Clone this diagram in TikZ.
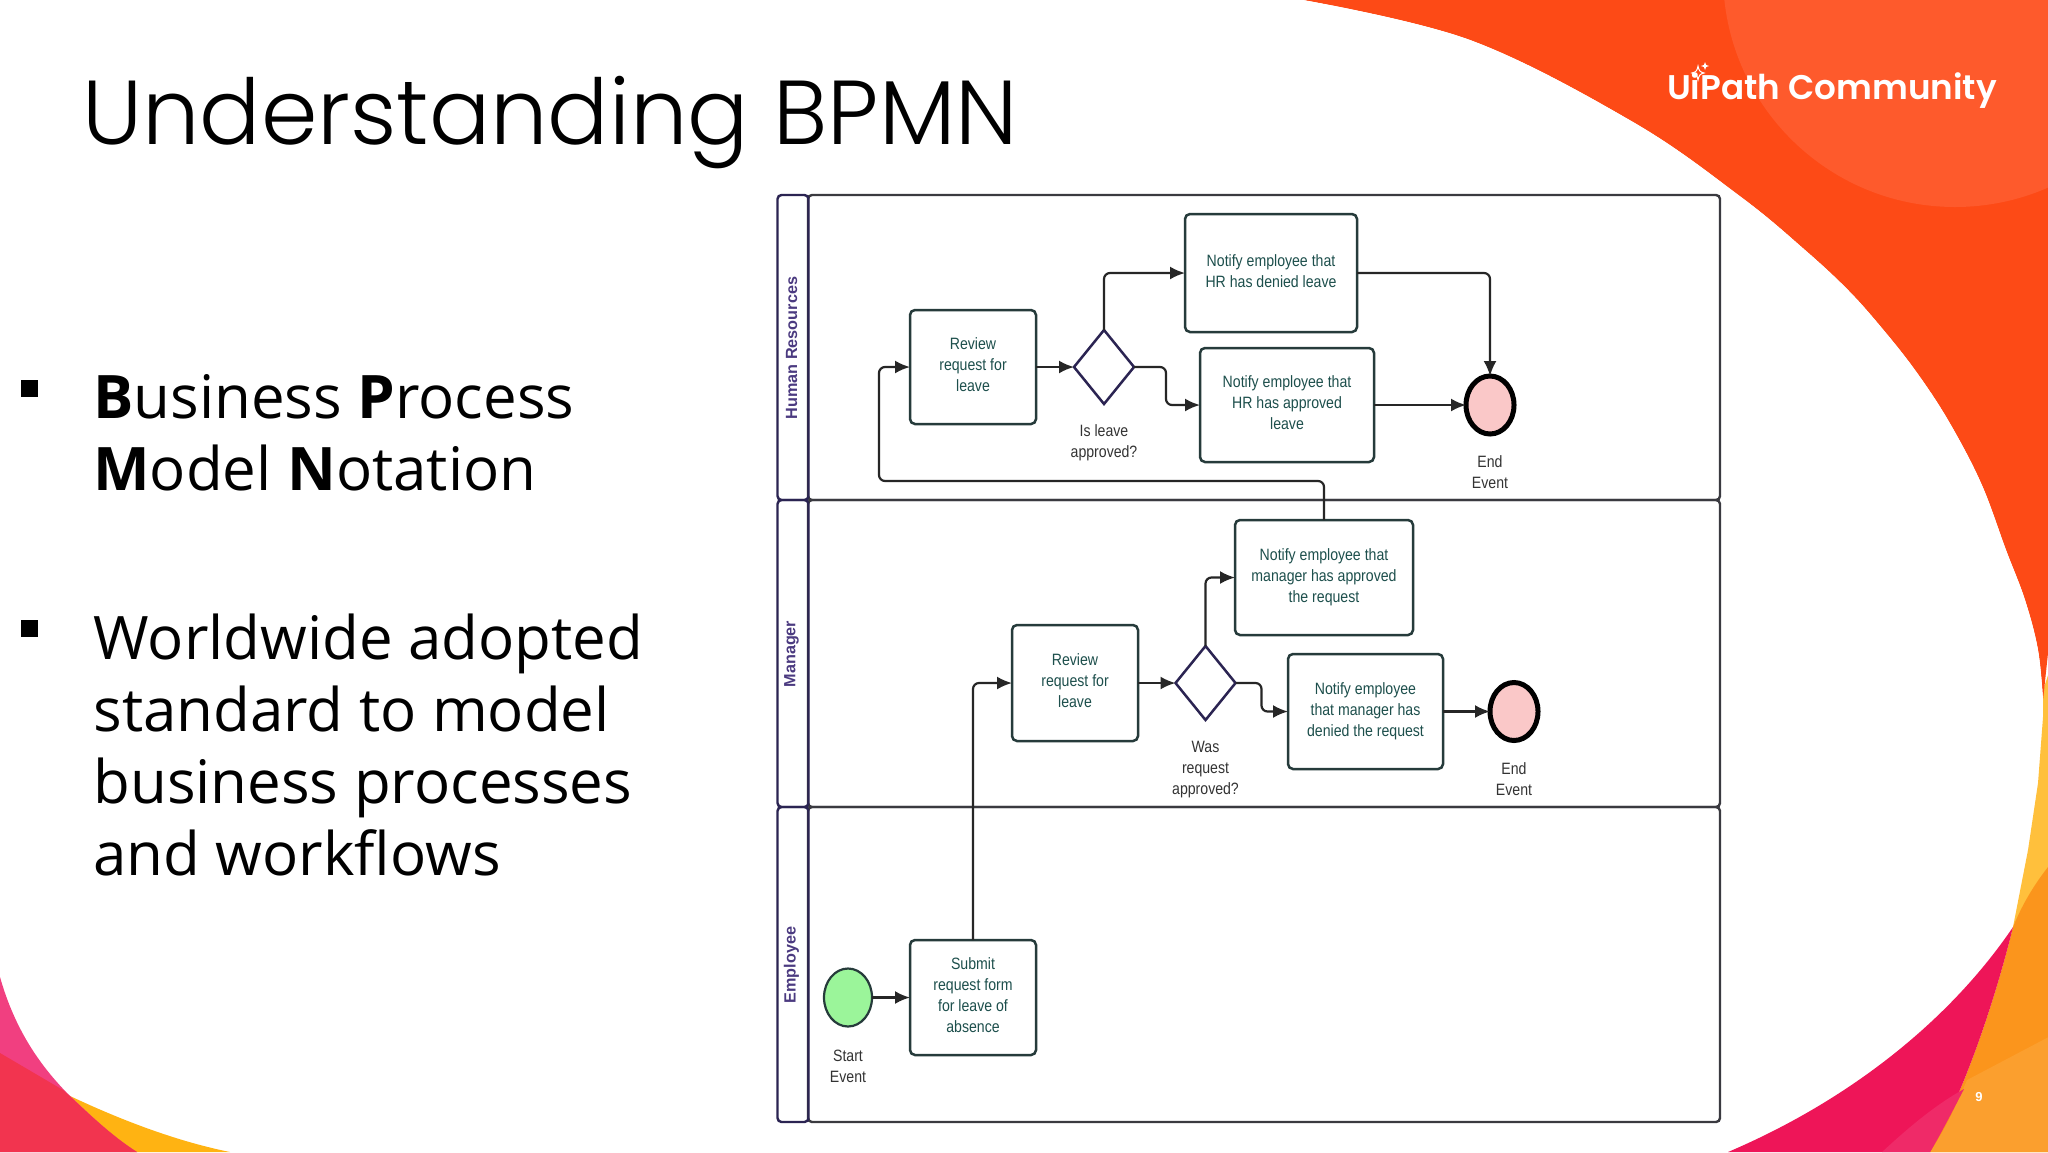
\documentclass[tikz,border=0pt]{standalone}
\usepackage{fontspec}
\usetikzlibrary{arrows.meta,shapes.geometric}
\setmainfont{Liberation Sans}
\newfontfamily\bodyfont{Open Sans}
\newfontfamily\titlefont{Poppins Light}
\newfontfamily\logofont{Poppins SemiBold}
\newfontfamily\flowfont[FakeStretch=0.86]{Liberation Sans}
\newcommand{\upnudge}{\rule[-2pt]{0pt}{0pt}}
\definecolor{redorange}{HTML}{FD4A16}
\definecolor{lightorange}{HTML}{FE5A2C}
\definecolor{sunyellow}{HTML}{FFC03C}
\definecolor{amber}{HTML}{FFB312}
\definecolor{deeporange}{HTML}{FB951C}
\definecolor{softorange}{HTML}{FB9F2E}
\definecolor{crimson}{HTML}{EE1558}
\definecolor{softcrimson}{HTML}{EF2A68}
\definecolor{hotpink}{HTML}{F13F80}
\definecolor{coral}{HTML}{F2344F}
\definecolor{boxline}{HTML}{263B3B}
\definecolor{laneline}{HTML}{3A3A40}
\definecolor{headline}{HTML}{2B2452}
\definecolor{boxtext}{HTML}{1D4F4C}
\definecolor{headtext}{HTML}{4B3A80}
\definecolor{labeltext}{HTML}{333333}
\definecolor{startfill}{HTML}{9BF59A}
\definecolor{endfill}{HTML}{FAC8C8}
\tikzset{
  task/.style={draw=boxline,line width=1.25pt,rounded corners=2.5pt,fill=white,inner sep=0pt,outer sep=0pt,
    align=center,font=\flowfont\fontsize{8.2}{10.5}\selectfont,text=boxtext},
  gate/.style={draw=headline,line width=1.25pt,diamond,fill=white,inner sep=0pt,outer sep=0pt,
    minimum width=30pt,minimum height=37pt},
  evlabel/.style={align=center,font=\flowfont\fontsize{8.2}{10.5}\selectfont,text=labeltext,inner sep=0pt},
  startev/.style={draw=boxline,line width=1.1pt,ellipse,fill=startfill,inner sep=0pt,outer sep=0pt,
    minimum width=24pt,minimum height=29pt},
  endev/.style={draw=black,line width=2.5pt,ellipse,fill=endfill,inner sep=0pt,outer sep=0pt,
    minimum width=24pt,minimum height=29pt},
  lanebox/.style={draw=laneline,line width=1.2pt,rounded corners=2pt,inner sep=0pt,outer sep=0pt},
  headbox/.style={draw=headline,line width=1.2pt,rounded corners=2pt,inner sep=0pt,outer sep=0pt},
  headlabel/.style={rotate=90,font=\fontsize{8.1}{9}\selectfont\bfseries,text=headtext,inner sep=0pt},
  conn/.style={draw=black!85,line width=1.1pt,rounded corners=3pt,-{Latex[length=7.5pt,width=6.5pt]}},
  bodytext/.style={align=left,anchor=north west,inner sep=0pt,font=\bodyfont\fontsize{30}{36}\selectfont,text=black},
  bulletsq/.style={fill=black,draw=none,minimum size=8.5pt,inner sep=0pt,outer sep=0pt}
}
\begin{document}
\begin{tikzpicture}[x=0.5pt,y=-0.5pt]
\useasboundingbox (0,0) rectangle (2048,1152);
\begin{scope}
\clip (0,0) rectangle (2048,1152);
\fill[white] (0,0) rectangle (2048,1152);
% right yellow and orange
\fill[sunyellow] (2060,640) -- (2043,690) -- (2043,717) -- (2038,783) -- (2028,850) -- (2013,927) -- (2060,927) -- cycle;
\fill[deeporange] (2060,855) -- (2048,867) .. controls (2030,890) and (2020,910) .. (2013,927)
   .. controls (1995,1000) and (1965,1090) .. (1930,1152) -- (2060,1152) -- cycle;
\fill[softorange] (2060,1031) -- (1967,1080)
   .. controls (1955,1108) and (1945,1130) .. (1930,1152) -- (2060,1152) -- cycle;
% crimson
\fill[crimson] (2013,927) .. controls (1950,1020) and (1850,1100) .. (1728,1152) -- (1930,1152)
   .. controls (1965,1090) and (1995,1000) .. (2013,927) -- cycle;
\fill[softcrimson] (1964,1089) .. controls (1935,1105) and (1908,1128) .. (1882,1152) -- (1930,1152)
   .. controls (1942,1132) and (1953,1110) .. (1964,1089) -- cycle;
% top right red orange
\fill[redorange] plot[smooth,tension=0.6] coordinates {(1303,0) (1470,40) (1633,122) (1741,197) (1805,250) (1848,290) (1881,327) (1915,370) (1948,420) (1981,483) (2006,550) (2025,600) (2038,650) (2043,700)}
  -- (2048,653) -- (2060,640) -- (2060,-10) -- (1303,-10) -- cycle;
\fill[lightorange] (1955,-25) circle[radius=232];
\fill[white] plot[smooth,tension=0.6] coordinates {(1303,0) (1470,40) (1633,122) (1741,197) (1805,250) (1848,290) (1881,327) (1915,370) (1948,420) (1981,483) (2006,550) (2025,600) (2038,650) (2043,700)}
  -- (1700,700) -- (1303,300) -- cycle;
% bottom left
\fill[amber] (68,1095) .. controls (110,1115) and (170,1140) .. (230,1152) -- (130,1152) -- cycle;
\fill[hotpink] (0,977) .. controls (15,1030) and (40,1065) .. (67,1093) .. controls (85,1110) and (110,1135) .. (137,1152) -- (0,1152) -- cycle;
\fill[coral] (0,1053) -- (63,1090) .. controls (85,1110) and (110,1135) .. (137,1152) -- (0,1152) -- cycle;
\end{scope}

% logo
\node[inner sep=0pt,anchor=center,text=white,font=\logofont\fontsize{17.1}{20}\selectfont] (logo) at (1832,91) {UiPath Community};
\draw[white,line width=0.5pt] (1698,66) .. controls (1699,71) and (1700,72) .. (1704,73) .. controls (1700,74) and (1699,75) .. (1698,80) .. controls (1697,75) and (1696,74) .. (1692,73) .. controls (1696,72) and (1697,71) .. (1698,66) -- cycle;
\fill[white] (1705,62) .. controls (1705.5,65) and (1706,65.5) .. (1709,66) .. controls (1706,66.5) and (1705.5,67) .. (1705,70) .. controls (1704.5,67) and (1704,66.5) .. (1701,66) .. controls (1704,65.5) and (1704.5,65) .. (1705,62) -- cycle;

\node (pageno) at (1979,1097) [inner sep=0pt,text=white,font=\fontsize{6.5}{8}\selectfont\bfseries] {9};

% title and body
\node[anchor=base west,inner sep=0pt,font=\titlefont\fontsize{45.4}{50}\selectfont,text=black] (title) at (82,144) {Understanding BPMN};
\node[bulletsq] (b1) at (29.5,388) {};
\node[bulletsq] (b2) at (29.5,628) {};
\node[bodytext] (t1) at (93,374) {\textbf{B}usiness \textbf{P}rocess\\\textbf{M}odel \textbf{N}otation};
\node[bodytext] (t2) at (93,613) {Worldwide adopted\\standard to model\\business processes\\and workflows};

% lanes
\node[lanebox,minimum width=456pt,minimum height=152.5pt] (hrlane) at (1264,347.5) {};
\node[lanebox,minimum width=456pt,minimum height=153.5pt] (mglane) at (1264,653.5) {};
\node[lanebox,minimum width=456pt,minimum height=157.5pt] (emlane) at (1264,964.5) {};
\node[headbox,minimum width=15.5pt,minimum height=152.5pt] (hrhead) at (793,347.5) {};
\node[headbox,minimum width=15.5pt,minimum height=153.5pt] (mghead) at (793,653.5) {};
\node[headbox,minimum width=15.5pt,minimum height=157.5pt] (emhead) at (793,964.5) {};
\node[headlabel] (hrlab) at (791.5,348) {Human Resources};
\node[headlabel] (mglab) at (791.5,654) {Manager};
\node[headlabel] (emlab) at (791.5,965) {Employee};

% HR lane
\node[task,minimum width=63pt,minimum height=57pt] (rh) at (973,367) {Review\\request for\\leave\upnudge};
\node[gate] (dh) at (1104,367) {};
\node[task,minimum width=86pt,minimum height=59pt] (nd) at (1271,273) {Notify employee that\\HR has denied leave\upnudge};
\node[task,minimum width=87pt,minimum height=57pt] (na) at (1287,405) {Notify employee that\\HR has approved\\leave\upnudge};
\node[endev] (eh) at (1490,405) {};
\node[evlabel] (lh) at (1104,443) {Is leave\\approved?};
\node[evlabel] (leh) at (1490,472) {End\\Event};

% Manager lane
\node[task,minimum width=89pt,minimum height=57.5pt] (nma) at (1324,577.5) {Notify employee that\\manager has approved\\the request\upnudge};
\node[task,minimum width=63pt,minimum height=58pt] (rm) at (1075,683) {Review\\request for\\leave\upnudge};
\node[gate] (dm) at (1205.5,683) {};
\node[task,minimum width=77.5pt,minimum height=57.5pt] (ndm) at (1365.5,711.5) {Notify employee\\that manager has\\denied the request};
\node[endev] (em) at (1514,711.5) {};
\node[evlabel] (lm) at (1205.5,770) {Was\\request\\approved?};
\node[evlabel] (lem) at (1514,779) {End\\Event};

% Employee lane
\node[startev] (st) at (848,997.5) {};
\node[task,minimum width=63pt,minimum height=57.5pt] (sb) at (973,997.5) {Submit\\request form\\for leave of\\absence\upnudge};
\node[evlabel] (lst) at (848,1066) {Start\\Event};

% connectors
\coordinate (loopc) at (879,481);
\draw[conn] (rh) -- (dh);
\draw[conn] (dh.north) |- (nd.west);
\draw[conn] (dh.east) -- ++(32,0) |- (na.west);
\draw[conn] (nd.east) -| (eh.north);
\draw[conn] (na.east) -- (eh.west);
\draw[conn] (nma.north) |- (loopc) |- (rh.west);
\draw[conn] (rm) -- (dm);
\draw[conn] (dm.north) |- (nma.west);
\draw[conn] (dm.east) -- ++(26,0) |- (ndm.west);
\draw[conn] (ndm.east) -- (em.west);
\draw[conn] (st.east) -- (sb.west);
\draw[conn] (sb.north) |- (rm.west);
\end{tikzpicture}
\end{document}
